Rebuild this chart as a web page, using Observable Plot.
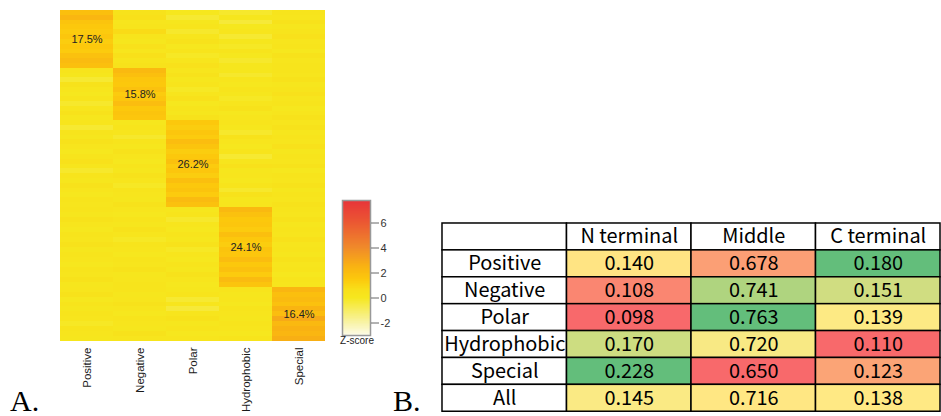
<!DOCTYPE html>
<html>
<head>
<meta charset="utf-8">
<script src="https://cdn.jsdelivr.net/npm/d3@7"></script>
<script src="https://cdn.jsdelivr.net/npm/@observablehq/plot@0.6"></script>
<style>
  html, body { margin: 0; padding: 0; background: #fff; }
  #root { position: relative; width: 941px; height: 416px; overflow: hidden; background: #fff; }
  .abs { position: absolute; }
  .panel { position: absolute; top: 386px; font: 30px "Liberation Serif", serif; line-height: 30px; color: #000; }
  #zlabel { left: 337px; top: 335px; width: 40px; text-align: center; font: 10px "Liberation Sans", Arial, sans-serif; color: #222; }
</style>
</head>
<body>
<div id="root">
  <div id="heat" class="abs" style="left:0;top:0"></div>
  <div id="legend" class="abs" style="left:330px;top:190px"></div>
  <div id="zlabel" class="abs">Z-score</div>
  <div id="table" class="abs" style="left:440px;top:221px"></div>
  <div class="panel" style="left:10px">A.</div>
  <div class="panel" style="left:393px">B.</div>
</div>
<script>
// ---------- Panel A data ----------
const groups = ["Positive", "Negative", "Polar", "Hydrophobic", "Special"];
const groupShares = [17.5, 15.8, 26.2, 24.1, 16.4];
// z-score stripes per row block, columns in order of `groups`
const positiveRows = [
  [1.9, 0.4, 0.0, -0.2, 0.3],
  [2.3, 0.6, -0.3, 0.1, 0.2],
  [1.7, 0.2, 0.1, -0.4, 0.4],
  [1.5, 0.3, 0.3, 0.0, 0.1],
  [1.4, 0.8, -0.2, 0.2, 0.3],
  [1.6, 0.3, 0.2, -0.3, 0.5],
  [1.3, 0.1, 0.4, 0.1, 0.2],
  [1.5, 0.5, 0.0, -0.1, 0.3],
  [1.4, 0.2, 0.3, 0.3, 0.0],
  [1.8, 0.6, -0.1, 0.0, 0.4],
  [2.1, 0.3, 0.2, -0.2, 0.2],
  [1.9, 0.4, 0.5, 0.1, 0.3]
];
const negativeRows = [
  [0.3, 2.2, 0.2, 0.1, 0.3],
  [0.1, 1.9, 0.4, -0.2, 0.2],
  [-0.3, 1.6, 0.1, 0.2, 0.4],
  [0.4, 1.5, 0.3, 0.0, 0.1],
  [0.2, 1.8, -0.1, 0.3, 0.3],
  [0.0, 1.4, 0.2, 0.1, 0.5],
  [0.3, 1.6, 0.5, -0.1, 0.2],
  [-0.2, 2.0, 0.0, 0.2, 0.3],
  [0.2, 1.5, 0.3, 0.4, 0.0],
  [0.4, 1.7, 0.1, 0.0, 0.2],
  [0.1, 1.6, 0.4, 0.2, 0.4]
];
const polarRows = [
  [0.2, 0.1, 1.5, 0.3, 0.2],
  [-0.3, 0.3, 1.3, 0.1, 0.4],
  [0.3, 0.2, 1.6, -0.2, 0.1],
  [0.1, -0.2, 1.4, 0.4, 0.3],
  [0.4, 0.3, 2.0, 0.2, 0.2],
  [0.2, 0.1, 1.7, 0.0, 0.5],
  [0.0, 0.4, 1.3, 0.3, 0.1],
  [0.3, 0.2, 1.5, -0.3, 0.3],
  [0.5, 0.0, 1.8, 0.2, 0.2],
  [0.2, 0.3, 1.4, 0.5, 0.4],
  [-0.2, 0.1, 1.6, 0.1, 0.0],
  [0.3, 0.4, 1.3, 0.2, 0.3],
  [0.1, 0.2, 1.9, 0.0, 0.2],
  [0.4, -0.1, 1.5, 0.3, 0.4],
  [0.2, 0.3, 1.7, -0.2, 0.1],
  [0.0, 0.2, 1.4, 0.4, 0.3],
  [0.3, 0.1, 2.1, 0.1, 0.2],
  [0.2, 0.4, 1.8, 0.2, 0.4]
];
const hydrophobicRows = [
  [0.3, 0.2, 0.1, 2.2, 0.3],
  [0.1, 0.0, 0.3, 1.8, 0.2],
  [0.4, 0.3, -0.2, 1.5, 0.4],
  [0.2, 0.1, 0.2, 1.6, 0.1],
  [0.0, 0.4, 0.0, 1.4, 0.3],
  [0.3, 0.2, 0.3, 1.9, 0.2],
  [0.2, -0.1, 0.1, 1.5, 0.5],
  [0.4, 0.3, 0.4, 1.3, 0.2],
  [0.1, 0.2, -0.1, 1.7, 0.3],
  [0.3, 0.0, 0.2, 1.6, 0.1],
  [0.2, 0.3, 0.0, 2.0, 0.4],
  [0.0, 0.2, 0.3, 1.5, 0.2],
  [0.3, 0.4, 0.1, 1.8, 0.3],
  [0.2, 0.1, 0.4, 1.4, 0.0],
  [0.4, 0.2, 0.2, 2.1, 0.3],
  [0.1, 0.3, 0.0, 1.7, 0.2]
];
const specialRows = [
  [0.2, 0.3, 0.1, 0.3, 2.3],
  [0.4, 0.1, 0.3, 0.1, 1.9],
  [0.0, 0.2, -0.3, 0.2, 2.1],
  [0.3, 0.4, 0.2, 0.0, 1.8],
  [0.1, 0.2, -0.4, 0.3, 2.4],
  [0.3, 0.0, 0.2, 0.2, 2.0],
  [0.2, 0.3, 0.4, 0.1, 2.8],
  [-0.1, 0.2, 0.1, 0.3, 2.2],
  [0.3, 0.1, 0.3, 0.2, 2.5],
  [0.2, 0.4, 0.0, 0.0, 2.3],
  [0.1, 0.2, 0.2, 0.3, 2.6]
];
const blockRows = [positiveRows, negativeRows, polarRows, hydrophobicRows, specialRows];
// colour ramp stops (Z-score)
const zStops = [-3, -2, 0, 0.6, 1.5, 2.5, 4, 6, 7.8];
const zColors = ["#fdfbe8", "#f8f3a6", "#f6e71e", "#f8e01a", "#fcc80c", "#f9b212", "#f08a2a", "#eb5832", "#e8343a"];
const zTicks = [-2, 0, 2, 4, 6];

// ---------- Panel B data ----------
const tableColumns = ["N terminal", "Middle", "C terminal"];
const tableRows = ["Positive", "Negative", "Polar", "Hydrophobic", "Special", "All"];
const nTerminal = [0.140, 0.108, 0.098, 0.170, 0.228, 0.145];
const middle = [0.678, 0.741, 0.763, 0.720, 0.650, 0.716];
const cTerminal = [0.180, 0.151, 0.139, 0.110, 0.123, 0.138];

// ---------- build heatmap records ----------
const heatCells = [];
const blockLabels = [];
let start = 0;
blockRows.forEach((rows, b) => {
  const share = groupShares[b];
  const h = share / rows.length;
  rows.forEach((vals, i) => {
    vals.forEach((z, c) => {
      heatCells.push({col: groups[c], y1: start + i * h, y2: start + (i + 1) * h, z});
    });
  });
  blockLabels.push({col: groups[b], y: start + share / 2, text: share.toFixed(1) + "%"});
  start += share;
});

const heatColor = {type: "linear", domain: zStops, range: zColors, interpolate: "rgb"};

const heat = Plot.plot({
  width: 340, height: 416,
  marginLeft: 59, marginRight: 15, marginTop: 10, marginBottom: 75,
  style: {fontFamily: "'Liberation Sans', Arial, sans-serif", fontSize: "11.5px", background: "transparent", color: "#1a1a1a"},
  x: {type: "band", domain: groups, padding: 0, label: null},
  y: {domain: [0, 100], reverse: true, axis: null},
  color: heatColor,
  marks: [
    Plot.barY(heatCells, {x: "col", y1: "y1", y2: "y2", fill: "z", inset: 0, shapeRendering: "crispEdges"}),
    Plot.text(blockLabels, {x: "col", y: "y", text: "text", fontSize: 11, fill: "#222"}),
    Plot.axisX({tickRotate: -90, tickSize: 0, tickPadding: 6, label: null, fontSize: 11.5})
  ]
});
document.getElementById("heat").appendChild(heat);

// ---------- colour bar ----------
const legendSamples = d3.range(zStops[0], zStops[zStops.length - 1], 0.05);
const legend = Plot.plot({
  width: 70, height: 160,
  marginLeft: 12, marginRight: 30, marginTop: 10, marginBottom: 15,
  style: {fontFamily: "'Liberation Sans', Arial, sans-serif", fontSize: "11px", background: "transparent", color: "#333"},
  y: {domain: [zStops[0], zStops[zStops.length - 1]]},
  color: heatColor,
  marks: [
    Plot.barY(legendSamples, {y1: d => d, y2: d => Math.min(d + 0.06, zStops[zStops.length - 1]), fill: d => d + 0.025, shapeRendering: "crispEdges"}),
    Plot.frame({stroke: "#999", strokeWidth: 1.5}),
    Plot.axisY({anchor: "right", ticks: zTicks, tickSize: 8, tickPadding: 2, tickFormat: d => String(d), label: null, stroke: "#666"})
  ]
});
document.getElementById("legend").appendChild(legend);

// ---------- table ----------
const colValues = [nTerminal, middle, cTerminal];
const valueCells = [];
colValues.forEach((vals, c) => {
  const sorted = vals.slice().sort(d3.ascending);
  const lo = sorted[0], hi = sorted[sorted.length - 1], med = d3.median(vals);
  vals.forEach((v, r) => {
    const t = v < med ? (v - med) / (med - lo) : (v - med) / (hi - med);
    valueCells.push({row: tableRows[r], col: tableColumns[c], text: v.toFixed(3), t});
  });
});
const headerCells = [{row: "", col: "", text: ""}]
  .concat(tableColumns.map(c => ({row: "", col: c, text: c})))
  .concat(tableRows.map(r => ({row: r, col: "", text: r})));

const tableFont = "'Noto Sans CJK JP', 'DejaVu Sans', sans-serif";
const table = Plot.plot({
  width: 503, height: 192,
  marginLeft: 1, marginRight: 1, marginTop: 1, marginBottom: 1,
  style: {fontFamily: tableFont, background: "transparent", color: "#000"},
  x: {type: "band", domain: [""].concat(tableColumns), padding: 0, axis: null},
  y: {type: "band", domain: [""].concat(tableRows), padding: 0, axis: null},
  color: {type: "linear", domain: [-1, 0, 1], range: ["#F8696B", "#FFEB84", "#63BE7B"], interpolate: "rgb"},
  marks: [
    Plot.cell(headerCells, {x: "col", y: "row", fill: "white", stroke: "black", strokeWidth: 1.5, inset: 0}),
    Plot.cell(valueCells, {x: "col", y: "row", fill: "t", stroke: "black", strokeWidth: 1.5, inset: 0}),
    Plot.text(headerCells.concat(valueCells), {x: "col", y: "row", text: "text", fontSize: 20, fill: "#000", fontFamily: tableFont})
  ]
});
document.getElementById("table").appendChild(table);
</script>
</body>
</html>
